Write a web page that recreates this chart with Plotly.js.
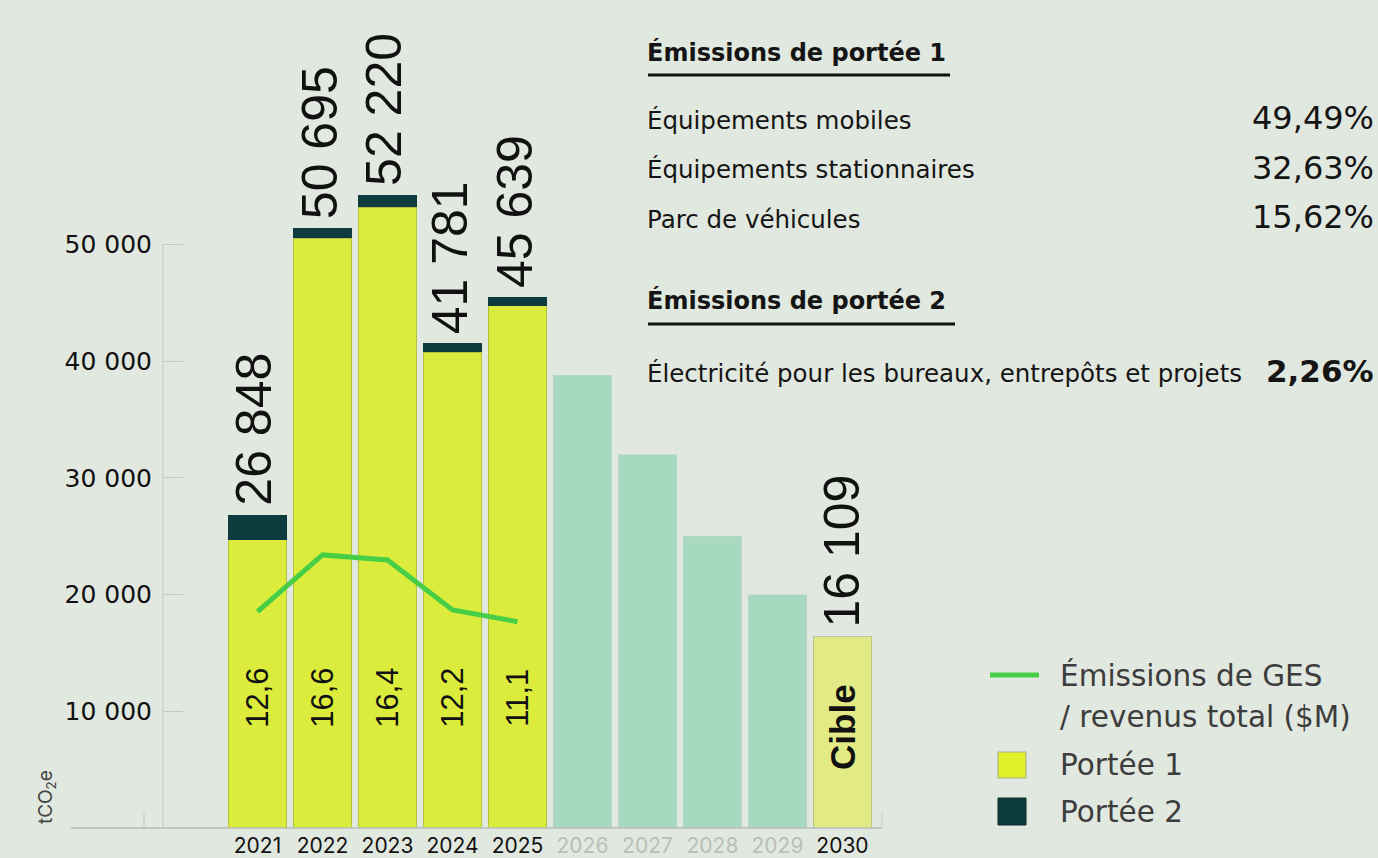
<!DOCTYPE html>
<html>
<head>
<meta charset="utf-8">
<script src="https://cdn.plot.ly/plotly-3.0.1.min.js"></script>
<style>
html,body{margin:0;padding:0;background:#e1e8df;}
#chart{width:1378px;height:858px;}
</style>
</head>
<body>
<div id="chart"></div>
<script>
// ---------- DATA ----------
const years = ['2021','2022','2023','2024','2025','2026','2027','2028','2029','2030'];
const actualYears = ['2021','2022','2023','2024','2025'];
const scope1 = [24700, 50550, 53200, 40750, 44750];
const scope2 = [2150, 850, 1050, 780, 750];
const totalLabels = ['26 848','50 695','52 220','41 781','45 639'];
const trajectoryYears = ['2026','2027','2028','2029'];
const trajectory = [38800, 32000, 25000, 20000];
const targetYears = ['2030'];
const target = [16400];
const targetLabels = ['16 109'];
const targetText = ['Cible'];
const intensityLine = [18540, 23400, 22970, 18680, 17680];
const intensityLabels = ['12,6','16,6','16,4','12,2','11,1'];
const yTicks = [10000, 20000, 30000, 40000, 50000];
const scope1Title = 'Émissions de portée 1';
const scope1Items = ['Équipements mobiles','Équipements stationnaires','Parc de véhicules'];
const scope1Shares = ['49,49%','32,63%','15,62%'];
const scope2Title = 'Émissions de portée 2';
const scope2Items = ['Électricité pour les bureaux, entrepôts et projets'];
const scope2Shares = ['2,26%'];
const legendLine = ['Émissions de GES', '/ revenus total ($M)'];
const legendBars = ['Portée 1', 'Portée 2'];
const unitLabel = 'tCO<sub>2</sub>e';

// ---------- STYLE ----------
const W = 1378, H = 858;
const M = {l:163, r:496, t:10, b:30};
const PW = W - M.l - M.r, PH = H - M.t - M.b;
const px = X => (X - M.l) / PW;
const py = Y => (H - M.b - Y) / PH;
const BG = '#e1e8df';
const C_S1 = '#dcec3c', C_S2 = '#0e3b3d', C_TRAJ = '#a6d9c0', C_TGT = '#e1ea84', C_LINE = '#46cf46';
const BODY = '"DejaVu Sans", sans-serif';
const NUM = '"Liberation Sans", Arial, sans-serif';
const TICK = 'Inter, "DejaVu Sans", sans-serif';
const idx = yr => years.indexOf(yr);

const totals = scope1.map((v,i) => v + scope2[i]);

const traces = [
  {type:'bar', x:actualYears, y:scope1, name:legendBars[0], marker:{color:C_S1, line:{color:'rgba(150,160,70,0.55)', width:1}}, hoverinfo:'skip'},
  {type:'bar', x:actualYears, y:scope2, name:legendBars[1], marker:{color:C_S2, line:{width:0}}, hoverinfo:'skip'},
  {type:'bar', x:trajectoryYears, y:trajectory, name:'Trajectoire', marker:{color:C_TRAJ, line:{color:'rgba(190,215,200,0.7)', width:1}}, hoverinfo:'skip'},
  {type:'bar', x:targetYears, y:target, name:'Cible', marker:{color:C_TGT, line:{color:'rgba(175,180,140,0.7)', width:1}}, hoverinfo:'skip'},
  {type:'scatter', mode:'lines', x:actualYears, y:intensityLine, name:legendLine.join(' '), line:{color:C_LINE, width:5}, hoverinfo:'skip'}
];

const ann = [];
// totals above bars
actualYears.forEach((yr,i) => ann.push({x:idx(yr), y:totals[i], xref:'x', yref:'y', text:totalLabels[i], textangle:-90,
  showarrow:false, xanchor:'center', yanchor:'bottom', yshift:8, xshift:-3, borderpad:0,
  font:{family:NUM, size:50, color:'#111'}}));
targetYears.forEach((yr,i) => ann.push({x:idx(yr), y:target[i], xref:'x', yref:'y', text:targetLabels[i], textangle:-90,
  showarrow:false, xanchor:'center', yanchor:'bottom', yshift:8, xshift:0, borderpad:0,
  font:{family:NUM, size:50, color:'#111'}}));
// intensity labels inside bars
actualYears.forEach((yr,i) => ann.push({x:idx(yr), y:11200, xref:'x', yref:'y', text:intensityLabels[i], textangle:-90,
  showarrow:false, xanchor:'center', yanchor:'middle', borderpad:0,
  font:{family:NUM, size:31, color:'#111'}}));
targetYears.forEach((yr,i) => ann.push({x:idx(yr), y:8700, xref:'x', yref:'y', text:'<b>'+targetText[i]+'</b>', textangle:-90,
  showarrow:false, xanchor:'center', yanchor:'middle', borderpad:0,
  font:{family:NUM, size:35, color:'#111'}}));
// unit label
ann.push({xref:'paper', yref:'paper', x:px(46), y:py(797), text:unitLabel, textangle:-90, showarrow:false,
  xanchor:'center', yanchor:'middle', font:{family:TICK, size:19, color:'#444'}});

// right panel
function txt(t, X, Yc, size, opts) {
  ann.push(Object.assign({xref:'paper', yref:'paper', x:px(X), y:py(Yc), text:t, showarrow:false,
    xanchor:'left', yanchor:'middle', borderpad:0, font:{family:BODY, size:size, color:'#151515'}}, opts||{}));
}
txt('<b>'+scope1Title+'</b>', 646, 53, 24);
scope1Items.forEach((t,i) => txt(t, 646, 120 + i*49.5, 24.5));
scope1Shares.forEach((t,i) => txt(t, 1375, 118 + i*49.5, 32, {xanchor:'right'}));
txt('<b>'+scope2Title+'</b>', 646, 301, 24);
scope2Items.forEach((t,i) => txt(t, 646, 373, 24.5));
scope2Shares.forEach((t,i) => txt('<b>'+t+'</b>', 1375, 371, 31, {xanchor:'right'}));

// legend texts
const LEG = {font:{family:BODY, size:29.5, color:'#3d3d3d'}};
txt(legendLine[0], 1059, 675, 29.5, LEG);
txt(legendLine[1], 1059, 717, 29.5, LEG);
txt(legendBars[0], 1059, 765, 29.5, LEG);
txt(legendBars[1], 1059, 812, 29.5, LEG);

const shapes = [
  // baseline
  {type:'line', xref:'paper', yref:'paper', x0:px(71), x1:px(882), y0:py(828), y1:py(828), line:{color:'#b7bcb7', width:1.5}},
  {type:'line', xref:'paper', yref:'paper', x0:px(144), x1:px(144), y0:py(828), y1:py(813), line:{color:'#c3c7c3', width:1}},
  {type:'line', xref:'paper', yref:'paper', x0:px(882), x1:px(882), y0:py(828), y1:py(813), line:{color:'#c3c7c3', width:1}},
  // y axis line
  {type:'line', xref:'paper', yref:'y', x0:0, x1:0, y0:0, y1:yTicks[yTicks.length-1], line:{color:'#c3c7c3', width:1}},
  // underlines
  {type:'line', xref:'paper', yref:'paper', x0:px(648), x1:px(950), y0:py(75), y1:py(75), line:{color:'#111', width:3}},
  {type:'line', xref:'paper', yref:'paper', x0:px(648), x1:px(955), y0:py(324), y1:py(324), line:{color:'#111', width:3}},
  // legend symbols
  {type:'line', xref:'paper', yref:'paper', x0:px(990), x1:px(1039), y0:py(675), y1:py(675), line:{color:C_LINE, width:5}},
  {type:'rect', xref:'paper', yref:'paper', x0:px(998), x1:px(1026), y0:py(778), y1:py(752), fillcolor:'#dff02a', line:{color:'#a9ad8c', width:1}},
  {type:'rect', xref:'paper', yref:'paper', x0:px(998), x1:px(1026), y0:py(825), y1:py(798), fillcolor:C_S2, line:{color:'#0a2c2e', width:1}}
];

const tickText = years.map(y => trajectoryYears.includes(y) ? '<span style="color:#b9beb9">'+y+'</span>' : y);

const layout = {
  width:W, height:H, margin:M, paper_bgcolor:BG, plot_bgcolor:'rgba(0,0,0,0)',
  showlegend:false, barmode:'stack', bargap:0.103, separators:', ',
  xaxis:{type:'category', categoryorder:'array', categoryarray:years, range:[-1.4538, 9.608],
    tickmode:'array', tickvals:years, ticktext:tickText, ticks:'', showgrid:false, zeroline:false, showline:false,
    tickfont:{family:TICK, size:21, color:'#111'}, ticklabelstandoff:3, fixedrange:true},
  yaxis:{range:[0, PH*10000/116.7], tickmode:'array', tickvals:yTicks, tickformat:',.0f',
    ticks:'inside', ticklen:20, tickcolor:'#c3c7c3', tickwidth:1, showgrid:false, zeroline:false, showline:false,
    tickfont:{family:BODY, size:25, color:'#111'}, ticklabelstandoff:10, fixedrange:true},
  annotations:ann, shapes:shapes
};

Plotly.newPlot('chart', traces, layout, {displayModeBar:false, staticPlot:true});
</script>
</body>
</html>
